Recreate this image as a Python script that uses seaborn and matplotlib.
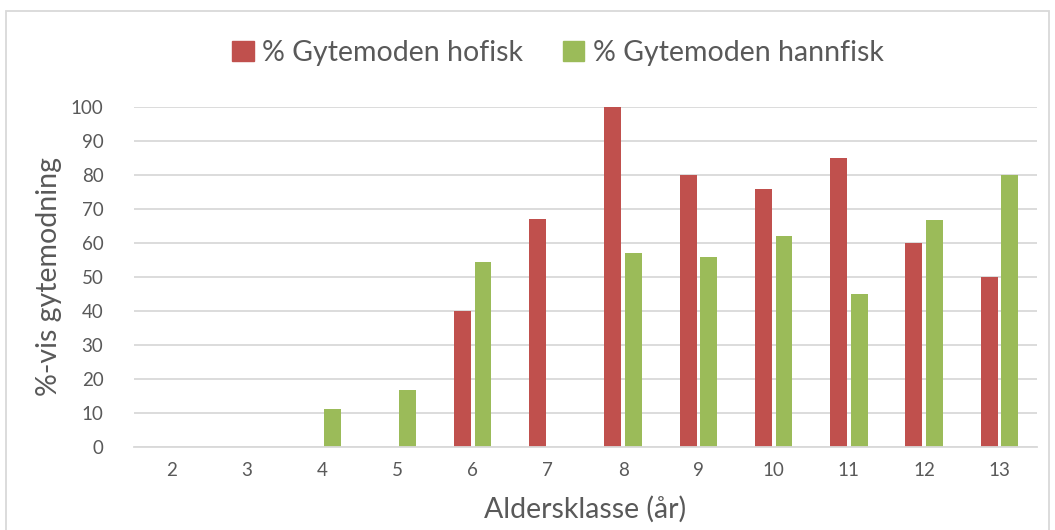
import matplotlib
matplotlib.use("Agg")
import matplotlib.pyplot as plt
import seaborn as sns
import pandas as pd
from matplotlib.patches import Rectangle

ages = ["2", "3", "4", "5", "6", "7", "8", "9", "10", "11", "12", "13"]
hofisk = [0, 0, 0, 0, 40, 67, 100, 80, 76, 85, 60, 50]
hannfisk = [0, 0, 11, 16.7, 54.5, 0, 57, 56, 62, 45, 66.7, 80]
series_names = ["% Gytemoden hofisk", "% Gytemoden hannfisk"]
colors = ["#C0504D", "#9BBB59"]

df = pd.DataFrame({
    "age": ages * 2,
    "value": hofisk + hannfisk,
    "series": [series_names[0]] * len(ages) + [series_names[1]] * len(ages),
})

sns.set_theme(style="white")
plt.rcParams["font.family"] = ["Lato", "DejaVu Sans"]
text_color = "#595959"

fig = plt.figure(figsize=(10.55, 5.3), dpi=100)
ax = fig.add_axes([0.127, 0.157, 0.856, 0.641])

sns.barplot(data=df, x="age", y="value", hue="series", order=ages,
            hue_order=series_names, palette=colors, width=0.55, gap=0.18,
            saturation=1, ax=ax, legend=False, edgecolor="none")

ax.set_ylim(0, 100)
ax.set_xlim(-0.5, len(ages) - 0.5)
ax.set_yticks(range(0, 101, 10))
ax.yaxis.grid(True, color="#D9D9D9", linewidth=1.3)
ax.set_axisbelow(True)
for s in ["top", "right", "left"]:
    ax.spines[s].set_visible(False)
ax.spines["bottom"].set_color("#D9D9D9")
ax.spines["bottom"].set_linewidth(1.3)
ax.tick_params(axis="both", length=0, labelsize=13.5, colors=text_color, pad=11)
ax.tick_params(axis="y", pad=22)
ax.set_xlabel("Aldersklasse (år)", fontsize=20.5, color=text_color, labelpad=12)
ax.set_ylabel("%-vis gytemodning", fontsize=20.5, color=text_color, labelpad=6)

handles = [Rectangle((0, 0), 1, 1, color=c) for c in colors]
fig.legend(handles, series_names, loc="center", bbox_to_anchor=(0.529, 0.9),
           ncol=2, frameon=False, fontsize=20.5, labelcolor=text_color,
           handlelength=0.75, handleheight=0.75, handletextpad=0.3, columnspacing=1.4)

fig.patches.append(Rectangle((0.006, -0.01), 0.988, 0.99, transform=fig.transFigure,
                             fill=False, edgecolor="#D9D9D9", linewidth=1.3))

fig.savefig("out.png", dpi=100)
